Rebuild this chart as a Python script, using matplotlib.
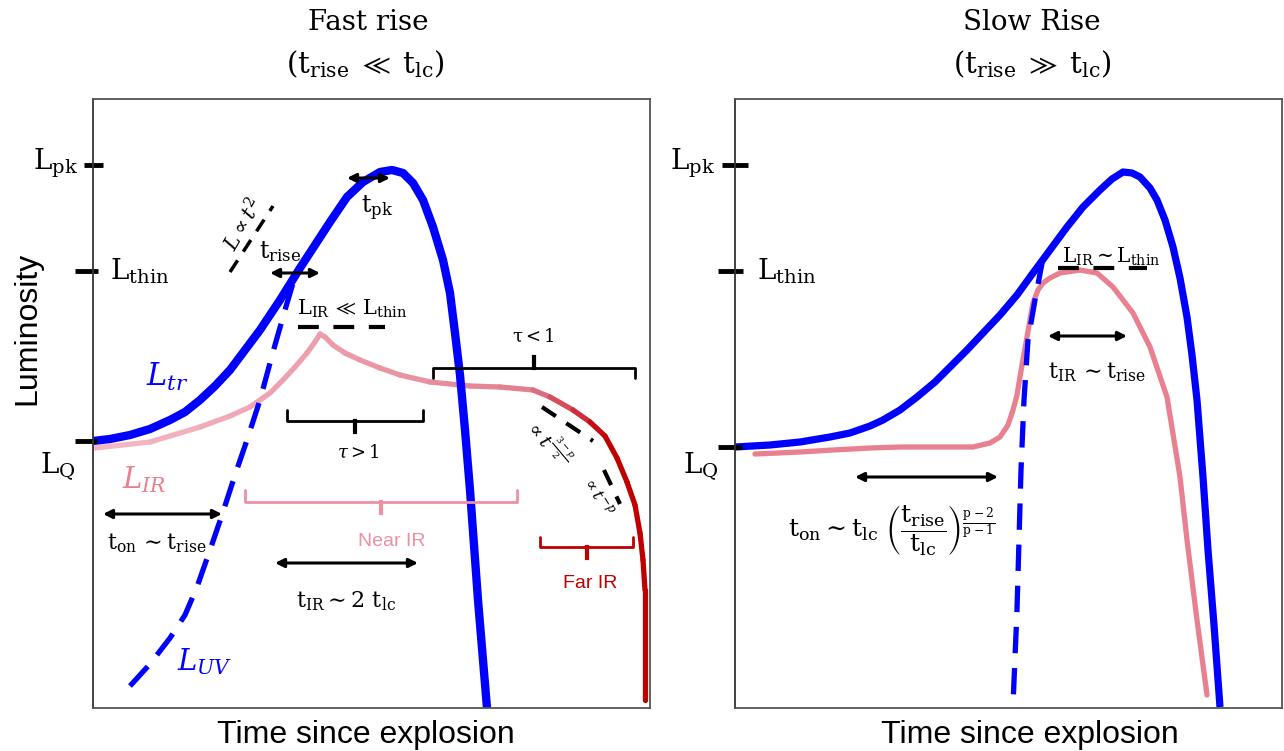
import numpy as np
import matplotlib
matplotlib.use('Agg')
import matplotlib.pyplot as plt
from matplotlib.collections import LineCollection
from matplotlib.colors import to_rgb

plt.rcParams['mathtext.fontset'] = 'dejavuserif'
plt.rcParams['font.family'] = ['DejaVu Serif']

# ---------------- data (pixel-space schematic values) ----------------
# Fast rise panel
tr_fast_x = [93, 110, 130, 150, 170, 185, 200, 215, 230, 245, 260, 280, 300, 315, 330, 347,
             363, 380, 392, 403, 413, 423, 433, 443, 450, 455, 460, 465, 470, 478, 487]
tr_fast_y = [441, 439, 435, 429, 420, 412, 400, 386, 370, 350, 330, 300, 268, 245, 222, 197,
             182, 172, 170, 173, 183, 200, 227, 260, 293, 333, 375, 430, 490, 600, 708]
uv_fast_x = [130, 150, 170, 185, 197, 210, 222, 235, 247, 260, 273, 285, 296]
uv_fast_y = [686, 664, 638, 615, 587, 550, 515, 475, 440, 400, 352, 310, 273]
ir_fast_x = [95, 150, 200, 230, 250, 270, 283, 295, 307, 315, 320, 325, 333, 345, 360, 380,
             400, 430, 470, 500, 533, 550, 573, 590, 605, 617, 627, 635, 640, 643, 645, 645]
ir_fast_y = [448, 442, 427, 416, 407, 393, 380, 367, 353, 342, 334, 337, 345, 353, 360, 368,
             375, 382, 386, 387, 390, 397, 410, 422, 436, 458, 482, 505, 533, 560, 590, 700]

# Slow rise panel
tr_slow_x = [735, 770, 800, 830, 850, 870, 883, 900, 917, 935, 950, 967, 983, 1000, 1017,
             1033, 1050, 1067, 1083, 1100, 1112, 1123, 1132, 1140, 1150, 1157, 1165, 1173,
             1180, 1187, 1192, 1197, 1203, 1208, 1214, 1220]
tr_slow_y = [447, 445, 442, 437, 433, 426, 420, 410, 397, 382, 367, 350, 333, 315, 295,
             273, 250, 227, 207, 190, 179, 172, 173, 177, 188, 200, 220, 247,
             278, 317, 355, 400, 477, 550, 625, 707]
uv_slow_x = [1043, 1035, 1028, 1024, 1021, 1019, 1017, 1013]
uv_slow_y = [258, 300, 340, 400, 470, 540, 610, 705]
ir_slow_x = [755, 800, 833, 870, 900, 940, 973, 990, 1000, 1008, 1013, 1017, 1022, 1027,
             1033, 1038, 1043, 1050, 1060, 1080, 1097, 1113, 1133, 1150, 1167, 1180, 1187,
             1197, 1207]
ir_slow_y = [454, 452, 450, 448, 447, 447, 447, 443, 437, 425, 410, 395, 365, 337,
             303, 290, 283, 278, 273, 270, 273, 287, 313, 347, 397, 477, 540,
             620, 695]

# Luminosity levels (pixel rows)
L_pk, L_thin, L_Q_fast, L_Q_slow = 165, 271, 441, 447

BLUE = '#0000FF'
PINK = '#E8808F'
RED = '#C00000'

W, H = 1284, 751
fig = plt.figure(figsize=(W / 100, H / 100), dpi=100)


def make_ax(x0, x1, y0, y1):
    ax = fig.add_axes([x0 / W, 1 - y1 / H, (x1 - x0) / W, (y1 - y0) / H])
    ax.set_xlim(x0, x1)
    ax.set_ylim(y1, y0)
    ax.set_xticks([])
    ax.set_yticks([])
    for s in ax.spines.values():
        s.set_color('#555555')
        s.set_linewidth(1.3)
    ax.spines['left'].set_color('#333333')
    return ax


axL = make_ax(93, 650, 99, 708)
axR = make_ax(735, 1282, 99, 708)


def arrow(ax, x0, x1, y):
    ax.annotate('', xy=(x1, y), xytext=(x0, y),
                arrowprops=dict(arrowstyle='<|-|>', lw=2.2, color='k',
                                mutation_scale=13, shrinkA=0, shrinkB=0),
                annotation_clip=False)


def bracket(ax, x0, x1, y_end, y_bar, y_tip, color, lw=2.0):
    xm = (x0 + x1) / 2
    ax.plot([x0, x0, x1, x1], [y_end, y_bar, y_bar, y_end], color=color, lw=lw,
            solid_joinstyle='round', solid_capstyle='round', clip_on=False)
    ax.plot([xm, xm], [y_bar, y_tip], color=color, lw=lw + 1, clip_on=False)


def tick(ax, x0, x1, y):
    ax.plot([x0, x1], [y, y], color='k', lw=3.5, clip_on=False, solid_capstyle='butt')


def gradient_line(ax, xs, ys, stops, lw):
    xs = np.asarray(xs, float)
    ys = np.asarray(ys, float)
    pts = np.column_stack([xs, ys])
    segs = np.stack([pts[:-1], pts[1:]], axis=1)
    xm = (xs[:-1] + xs[1:]) / 2
    sx = [s[0] for s in stops]
    cols = np.array([to_rgb(s[1]) for s in stops])
    rgb = np.column_stack([np.interp(xm, sx, cols[:, k]) for k in range(3)])
    lc = LineCollection(segs, colors=rgb, linewidths=lw, capstyle='round', joinstyle='round')
    ax.add_collection(lc)


# ---------------- Left panel: fast rise ----------------
ax = axL
gradient_line(ax, ir_fast_x, ir_fast_y,
              [(95, '#F4B8C4'), (300, '#EEA0B0'), (430, '#E8909F'), (530, '#E0808F'),
               (580, '#D03040'), (605, RED)], lw=3.8)
ax.plot(uv_fast_x, uv_fast_y, color=BLUE, lw=3.8, dashes=(5, 2.8), dash_capstyle='butt')
ax.plot(tr_fast_x, tr_fast_y, color=BLUE, lw=6.0, solid_joinstyle='round',
        solid_capstyle='butt', clip_on=True)

# luminosity ticks & labels
tick(ax, 84, 103, L_pk)
tick(ax, 75, 98, L_thin)
tick(ax, 75, 97, L_Q_fast)
ax.text(78, 163, r'$\mathrm{L_{pk}}$', fontsize=20, ha='right', va='center')
ax.text(110, 271, r'$\mathrm{L_{thin}}$', fontsize=20, ha='left', va='center')
ax.text(58, 467, r'$\mathrm{L_{Q}}$', fontsize=20, ha='center', va='center')

# dashed guide lines
ax.plot([298, 385], [327, 327], color='k', lw=3.0, dashes=(5, 3.5))
ax.plot([230, 273], [272, 206], color='k', lw=2.5, dashes=(4, 3))
ax.plot([542, 593], [407, 441], color='k', lw=3.0, dashes=(4, 3))
ax.plot([604, 620], [470, 504], color='k', lw=3.0, dashes=(4, 3))

# arrows
arrow(ax, 270, 320, 273)
arrow(ax, 347, 390, 178)
arrow(ax, 103, 222, 514)
arrow(ax, 275, 418, 563)

# brackets
bracket(ax, 287, 423, 410, 421, 432, 'k')
bracket(ax, 433, 635, 378, 368, 357, 'k')
bracket(ax, 245, 517, 490, 502, 513, '#EE8FA2')
bracket(ax, 540, 633, 537, 547, 558, RED)

# annotation text
ax.text(280, 252, r'$\mathrm{t_{rise}}$', fontsize=17, ha='center', va='center')
ax.text(377, 208, r'$\mathrm{t_{pk}}$', fontsize=17, ha='center', va='center')
ax.text(352, 309, r'$\mathrm{L_{IR}}\,\ll\,\mathrm{L_{thin}}$', fontsize=15, ha='center', va='center')
ax.text(243, 225, r'$L \propto t^2$', fontsize=15, ha='center', va='center', rotation=60)
ax.text(358, 453, r'$\tau > 1$', fontsize=13, ha='center', va='center')
ax.text(533, 337, r'$\mathrm{\tau} < 1$', fontsize=13, ha='center', va='center')
ax.text(157, 543, r'$\mathrm{t_{on}}\,{\sim}\mathrm{t_{rise}}$', fontsize=16, ha='center', va='center')
ax.text(346, 601, r'$\mathrm{t_{IR}} \sim 2\ \mathrm{t_{lc}}$', fontsize=16, ha='center', va='center')
ax.text(549, 442, r'$\propto t^{\frac{3-p}{2}}$', fontsize=14, ha='center', va='center', rotation=-50)
ax.text(597, 496, r'$\propto t^{-p}$', fontsize=12, ha='center', va='center', rotation=-58)
ax.text(392, 541, 'Near IR', fontsize=14, color='#EE8FA2', ha='center', va='center',
        family='Liberation Sans')
ax.text(590, 583, 'Far IR', fontsize=14, color=RED, ha='center', va='center',
        family='Liberation Sans')
ax.text(167, 377, r'$L_{tr}$', fontsize=22, color=BLUE, ha='center', va='center')
ax.text(144, 480, r'$L_{IR}$', fontsize=21, color=PINK, ha='center', va='center')
ax.text(205, 662, r'$L_{UV}$', fontsize=21, color=BLUE, ha='center', va='center')

# titles / axis labels
ax.text(368, 22, 'Fast rise', fontsize=20, ha='center', va='center')
ax.text(365, 64, r'$(\mathrm{t_{rise}}\;\ll\;\mathrm{t_{lc}})$', fontsize=21, ha='center', va='center')
ax.text(366, 735, 'Time since explosion', fontsize=23, ha='center', va='center',
        family='Liberation Sans')
ax.text(27, 328, 'Luminosity', fontsize=23, ha='center', va='center', rotation=90,
        family='Liberation Sans')

# ---------------- Right panel: slow rise ----------------
ax = axR
ax.plot(ir_slow_x, ir_slow_y, color=PINK, lw=3.8, solid_joinstyle='round',
        solid_capstyle='round')
ax.plot(uv_slow_x, uv_slow_y, color=BLUE, lw=3.8, dashes=(5, 2.8), dash_capstyle='butt')
ax.plot(tr_slow_x, tr_slow_y, color=BLUE, lw=5.2, solid_joinstyle='round',
        solid_capstyle='butt')

tick(ax, 722, 748, L_pk)
tick(ax, 718, 743, L_thin)
tick(ax, 718, 742, L_Q_slow)
ax.text(715, 163, r'$\mathrm{L_{pk}}$', fontsize=20, ha='right', va='center')
ax.text(757, 271, r'$\mathrm{L_{thin}}$', fontsize=20, ha='left', va='center')
ax.text(701, 467, r'$\mathrm{L_{Q}}$', fontsize=20, ha='center', va='center')

ax.plot([1058, 1147], [268, 268], color='k', lw=3.0, dashes=(5, 3.5))
ax.text(1111, 257, r'$\mathrm{L_{IR}} \sim \mathrm{L_{thin}}$', fontsize=14.5, ha='center', va='center')

arrow(ax, 1048, 1127, 336)
ax.text(1097, 372, r'$\mathrm{t_{IR}}\,{\sim}\mathrm{t_{rise}}$', fontsize=16, ha='center', va='center')
arrow(ax, 855, 998, 477)
ax.text(892, 530,
        r'$\mathrm{t_{on}} \sim \mathrm{t_{lc}}\ \left(\dfrac{\mathrm{t_{rise}}}{\mathrm{t_{lc}}}\right)^{\frac{\mathrm{p}-2}{\mathrm{p}-1}}$',
        fontsize=18, ha='center', va='center')

ax.text(1032, 22, 'Slow Rise', fontsize=20, ha='center', va='center')
ax.text(1032, 64, r'$(\mathrm{t_{rise}}\;\gg\;\mathrm{t_{lc}})$', fontsize=21, ha='center', va='center')
ax.text(1030, 735, 'Time since explosion', fontsize=23, ha='center', va='center',
        family='Liberation Sans')

fig.savefig('out.png', dpi=100)
